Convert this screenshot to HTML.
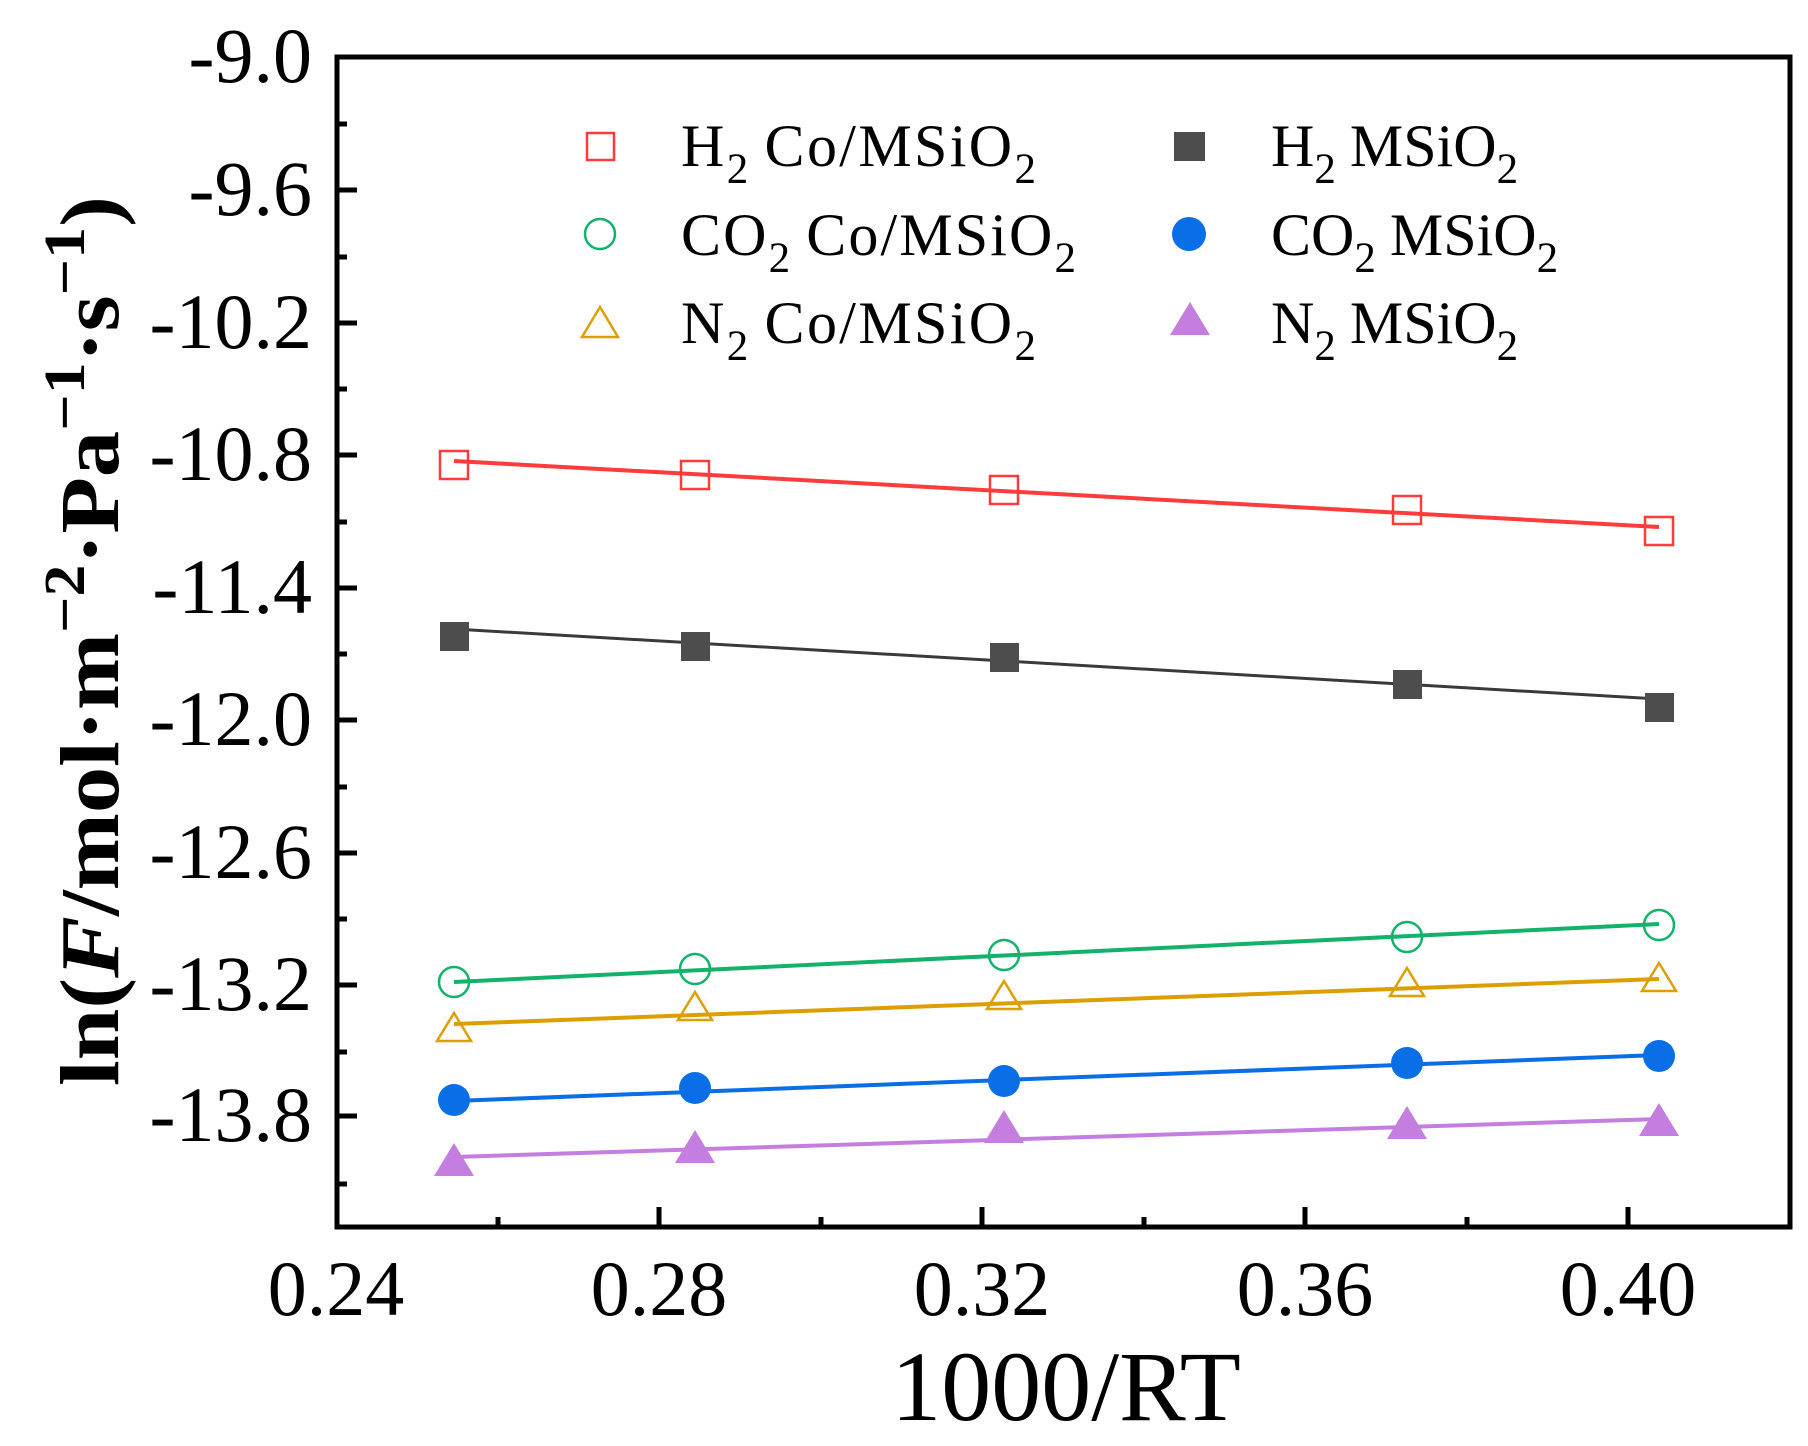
<!DOCTYPE html>
<html><head><meta charset="utf-8"><style>
html,body{margin:0;padding:0;background:#fff;}
svg{display:block;}
text{font-family:"Liberation Serif",serif;fill:#000;}
</style></head><body>
<svg width="1808" height="1446" viewBox="0 0 1808 1446" xmlns="http://www.w3.org/2000/svg">
<rect x="337" y="57" width="1453" height="1170" fill="none" stroke="#000" stroke-width="5"/>
<g stroke="#000" stroke-width="5">
<line x1="337" y1="190" x2="357" y2="190"/>
<line x1="337" y1="323" x2="357" y2="323"/>
<line x1="337" y1="455" x2="357" y2="455"/>
<line x1="337" y1="588" x2="357" y2="588"/>
<line x1="337" y1="720" x2="357" y2="720"/>
<line x1="337" y1="853" x2="357" y2="853"/>
<line x1="337" y1="985" x2="357" y2="985"/>
<line x1="337" y1="1116" x2="357" y2="1116"/>
<line x1="337" y1="124" x2="347" y2="124"/>
<line x1="337" y1="257" x2="347" y2="257"/>
<line x1="337" y1="389" x2="347" y2="389"/>
<line x1="337" y1="522" x2="347" y2="522"/>
<line x1="337" y1="654" x2="347" y2="654"/>
<line x1="337" y1="787" x2="347" y2="787"/>
<line x1="337" y1="919" x2="347" y2="919"/>
<line x1="337" y1="1052" x2="347" y2="1052"/>
<line x1="337" y1="1184" x2="347" y2="1184"/>
<line x1="659" y1="1227" x2="659" y2="1207"/>
<line x1="982" y1="1227" x2="982" y2="1207"/>
<line x1="1305" y1="1227" x2="1305" y2="1207"/>
<line x1="1628" y1="1227" x2="1628" y2="1207"/>
<line x1="498" y1="1227" x2="498" y2="1217"/>
<line x1="821" y1="1227" x2="821" y2="1217"/>
<line x1="1144" y1="1227" x2="1144" y2="1217"/>
<line x1="1467" y1="1227" x2="1467" y2="1217"/>
</g>
<g font-size="78" text-anchor="end">
<text x="312" y="82">-9.0</text>
<text x="312" y="215">-9.6</text>
<text x="312" y="348">-10.2</text>
<text x="312" y="480">-10.8</text>
<text x="312" y="613">-11.4</text>
<text x="312" y="745">-12.0</text>
<text x="312" y="878">-12.6</text>
<text x="312" y="1010">-13.2</text>
<text x="312" y="1141">-13.8</text>
</g>
<g font-size="78" text-anchor="middle">
<text x="336" y="1315">0.24</text>
<text x="659" y="1315">0.28</text>
<text x="982" y="1315">0.32</text>
<text x="1305" y="1315">0.36</text>
<text x="1628" y="1315">0.40</text>
</g>
<text x="1066" y="1420" font-size="100" text-anchor="middle">1000/RT</text>
<text transform="translate(118,641) rotate(-90)" font-size="84" font-weight="bold" text-anchor="middle" textLength="890" lengthAdjust="spacingAndGlyphs">ln(<tspan font-style="italic">F</tspan>/mol·m<tspan dy="-34" font-size="58">−2</tspan><tspan dy="34">·Pa</tspan><tspan dy="-34" font-size="58">−1</tspan><tspan dy="34">·s</tspan><tspan dy="-34" font-size="58">−1</tspan><tspan dy="34">)</tspan></text>

<g stroke-width="4" fill="none">
<line x1="454" y1="461" x2="1659" y2="527" stroke="#ff3b3b"/>
<line x1="454" y1="629" x2="1659" y2="699" stroke="#3a3a3a" stroke-width="3"/>
<line x1="454" y1="982" x2="1659" y2="924" stroke="#13b26a"/>
<line x1="454" y1="1024" x2="1659" y2="979" stroke="#dd9f00"/>
<line x1="454" y1="1101" x2="1659" y2="1055" stroke="#0a6fe6"/>
<line x1="454" y1="1157" x2="1659" y2="1119" stroke="#c37ee0"/>
</g>
<g fill="none" stroke="#ff3b3b" stroke-width="2.5">
<rect x="440" y="451" width="28" height="28"/>
<rect x="681" y="461" width="28" height="28"/>
<rect x="990" y="476" width="28" height="28"/>
<rect x="1393" y="496" width="28" height="28"/>
<rect x="1645" y="517" width="28" height="28"/>
</g>
<g fill="#4d4d4d">
<rect x="440" y="622" width="29" height="29"/>
<rect x="681" y="632" width="29" height="29"/>
<rect x="990" y="643" width="29" height="29"/>
<rect x="1393" y="670" width="29" height="29"/>
<rect x="1645" y="693" width="29" height="29"/>
</g>
<g fill="none" stroke="#13b26a" stroke-width="2.5">
<circle cx="454" cy="982" r="15"/>
<circle cx="695" cy="969" r="15"/>
<circle cx="1004" cy="955" r="15"/>
<circle cx="1407" cy="937" r="15"/>
<circle cx="1659" cy="925" r="15"/>
</g>
<g fill="none" stroke="#dd9f00" stroke-width="2.5">
<polygon points="454,1013 471,1041 437,1041"/>
<polygon points="695,992 712,1020 678,1020"/>
<polygon points="1004,981 1021,1009 987,1009"/>
<polygon points="1407,968 1424,996 1390,996"/>
<polygon points="1659,963 1676,991 1642,991"/>
</g>
<g fill="#0a6fe6">
<circle cx="454" cy="1100" r="16"/>
<circle cx="695" cy="1088" r="16"/>
<circle cx="1004" cy="1081" r="16"/>
<circle cx="1407" cy="1063" r="16"/>
<circle cx="1659" cy="1056" r="16"/>
</g>
<g fill="#c37ee0">
<polygon points="454,1143 474,1176 434,1176"/>
<polygon points="695,1130 715,1163 675,1163"/>
<polygon points="1004,1110 1024,1143 984,1143"/>
<polygon points="1407,1106 1427,1139 1387,1139"/>
<polygon points="1659,1103 1679,1136 1639,1136"/>
</g>

<rect x="587" y="133" width="27" height="27" fill="none" stroke="#ff3b3b" stroke-width="2.5"/>
<circle cx="600" cy="234" r="15" fill="none" stroke="#13b26a" stroke-width="2.5"/>
<polygon points="600,307 618,337 582,337" fill="none" stroke="#dd9f00" stroke-width="2.5"/>
<rect x="1174" y="132" width="31" height="29" fill="#4d4d4d"/>
<circle cx="1189" cy="234" r="17" fill="#0a6fe6"/>
<polygon points="1190,302 1210,335 1170,335" fill="#c37ee0"/>
<g font-size="60">
<text x="681" y="166" textLength="355" lengthAdjust="spacing">H<tspan font-size="43" dy="17">2</tspan><tspan dy="-17" dx="14">Co/MSiO</tspan><tspan font-size="43" dy="17">2</tspan></text>
<text x="681" y="255" textLength="395" lengthAdjust="spacing">CO<tspan font-size="43" dy="17">2</tspan><tspan dy="-17" dx="14">Co/MSiO</tspan><tspan font-size="43" dy="17">2</tspan></text>
<text x="681" y="343" textLength="355" lengthAdjust="spacing">N<tspan font-size="43" dy="17">2</tspan><tspan dy="-17" dx="14">Co/MSiO</tspan><tspan font-size="43" dy="17">2</tspan></text>
<text x="1271" y="166">H<tspan font-size="43" dy="17">2</tspan><tspan dy="-17" dx="14">MSiO</tspan><tspan font-size="43" dy="17">2</tspan></text>
<text x="1271" y="255">CO<tspan font-size="43" dy="17">2</tspan><tspan dy="-17" dx="14">MSiO</tspan><tspan font-size="43" dy="17">2</tspan></text>
<text x="1271" y="343">N<tspan font-size="43" dy="17">2</tspan><tspan dy="-17" dx="14">MSiO</tspan><tspan font-size="43" dy="17">2</tspan></text>
</g>
</svg>
</body></html>
